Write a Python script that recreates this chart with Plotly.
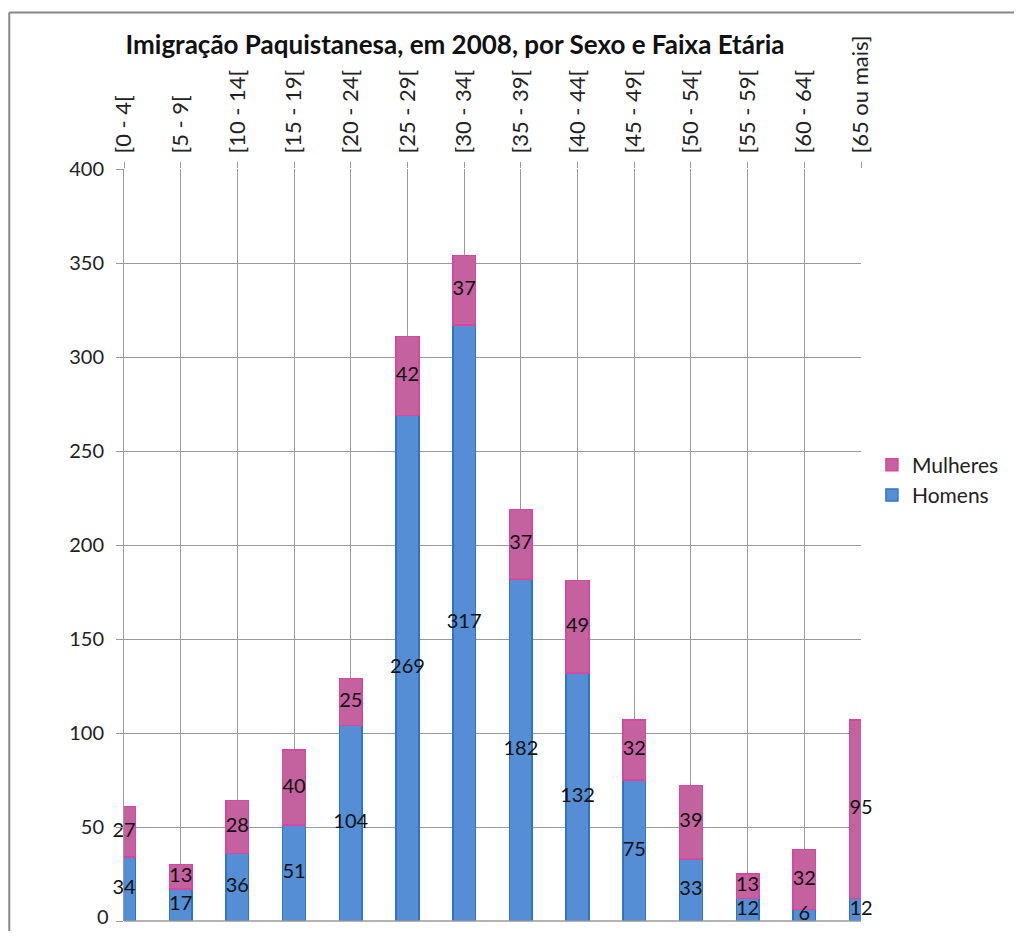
import plotly.graph_objects as go

categorias = ["[0 - 4[", "[5 - 9[", "[10 - 14[", "[15 - 19[", "[20 - 24[", "[25 - 29[",
              "[30 - 34[", "[35 - 39[", "[40 - 44[", "[45 - 49[", "[50 - 54[", "[55 - 59[",
              "[60 - 64[", "[65 ou mais]"]
homens = [34, 17, 36, 51, 104, 269, 317, 182, 132, 75, 33, 12, 6, 12]
mulheres = [27, 13, 28, 40, 25, 42, 37, 37, 49, 32, 39, 13, 32, 95]
y_ticks = [0, 50, 100, 150, 200, 250, 300, 350, 400]

xs = list(range(len(categorias)))
FONT = "Lato, 'Open Sans', sans-serif"

# figure sits at an 8px page offset (body margin)
W, H = 1006, 923
L, T, R, B = 116, 161, 858, 913  # plot area in figure px
PW, PH = R - L, B - T

def px(x):
    return (x - L) / PW

def py(y):
    return (B - y) / PH

fig = go.Figure()
fig.add_trace(go.Bar(x=xs, y=homens, name="Homens", width=0.4, legendgroup="h",
                     marker=dict(color="#558ED5", line=dict(color="#2E75C6", width=1.5))))
fig.add_trace(go.Bar(x=xs, y=mulheres, name="Mulheres", width=0.4, legendgroup="m",
                     marker=dict(color="#C3629E", line=dict(color="#D8469F", width=1.5))))

# data labels at segment centres
fig.add_trace(go.Scatter(x=xs, y=[h / 2 for h in homens], mode="text",
                         text=[str(h) for h in homens], showlegend=False, cliponaxis=False,
                         textfont=dict(family=FONT, size=20, color="#111111"), hoverinfo="skip"))
fig.add_trace(go.Scatter(x=xs, y=[h + m / 2 for h, m in zip(homens, mulheres)], mode="text",
                         text=[str(m) for m in mulheres], showlegend=False, cliponaxis=False,
                         textfont=dict(family=FONT, size=20, color="#111111"), hoverinfo="skip"))

# bottom tick label drawn as annotation so it is not hidden at the figure edge
tick_text = ["" if v == y_ticks[0] else str(v) for v in y_ticks]

fig.update_layout(
    barmode="stack",
    width=W, height=H,
    margin=dict(l=L, r=W - R, t=T, b=H - B),
    paper_bgcolor="white", plot_bgcolor="white",
    font=dict(family=FONT, size=19, color="#222222"),
    title=dict(text="<b>Imigração Paquistanesa, em 2008, por Sexo e Faixa Etária</b>",
               xref="container", yref="container",
               x=447 / W, xanchor="center", y=1 - 37 / H, yanchor="middle",
               font=dict(family=FONT, size=26, color="#111111")),
    legend=dict(x=px(869), y=py(472), xanchor="left", yanchor="middle", traceorder="reversed",
                font=dict(family=FONT, size=21, color="#222222"), tracegroupgap=33,
                itemwidth=30),
    xaxis=dict(side="top", range=[0, 13], tickmode="array", tickvals=xs, ticktext=categorias,
               tickangle=-90, showgrid=True, gridcolor="#9A9A9A", gridwidth=1,
               ticks="outside", ticklen=6, tickcolor="#9A9A9A",
               showline=False, zeroline=False, ticklabelstandoff=4,
               tickfont=dict(family=FONT, size=22, color="#222222")),
    yaxis=dict(range=[0, 400], tickmode="array", tickvals=y_ticks, ticktext=tick_text,
               showgrid=True, gridcolor="#9A9A9A", gridwidth=1,
               ticks="outside", ticklen=7, tickcolor="#9A9A9A",
               showline=True, linecolor="#9A9A9A", linewidth=1, zeroline=False,
               ticklabelstandoff=8,
               tickfont=dict(family=FONT, size=20, color="#222222")),
    annotations=[dict(text=str(y_ticks[0]), xref="paper", yref="y", x=0, y=y_ticks[0],
                      xanchor="right", yanchor="middle", xshift=-14, yshift=5,
                      showarrow=False, borderpad=0,
                      font=dict(family=FONT, size=20, color="#222222"))],
    shapes=[
        dict(type="line", xref="paper", yref="paper", x0=0, x1=1, y0=0, y1=0,
             line=dict(color="#9A9A9A", width=1.5)),
        dict(type="line", xref="paper", yref="paper",
             x0=px(0.5), x1=px(W + 10), y0=py(4.5), y1=py(4.5),
             line=dict(color="#878787", width=2)),
        dict(type="line", xref="paper", yref="paper",
             x0=px(0.5), x1=px(0.5), y0=py(4.5), y1=py(H + 20),
             line=dict(color="#878787", width=2)),
    ],
)

fig.write_html("out.html")
